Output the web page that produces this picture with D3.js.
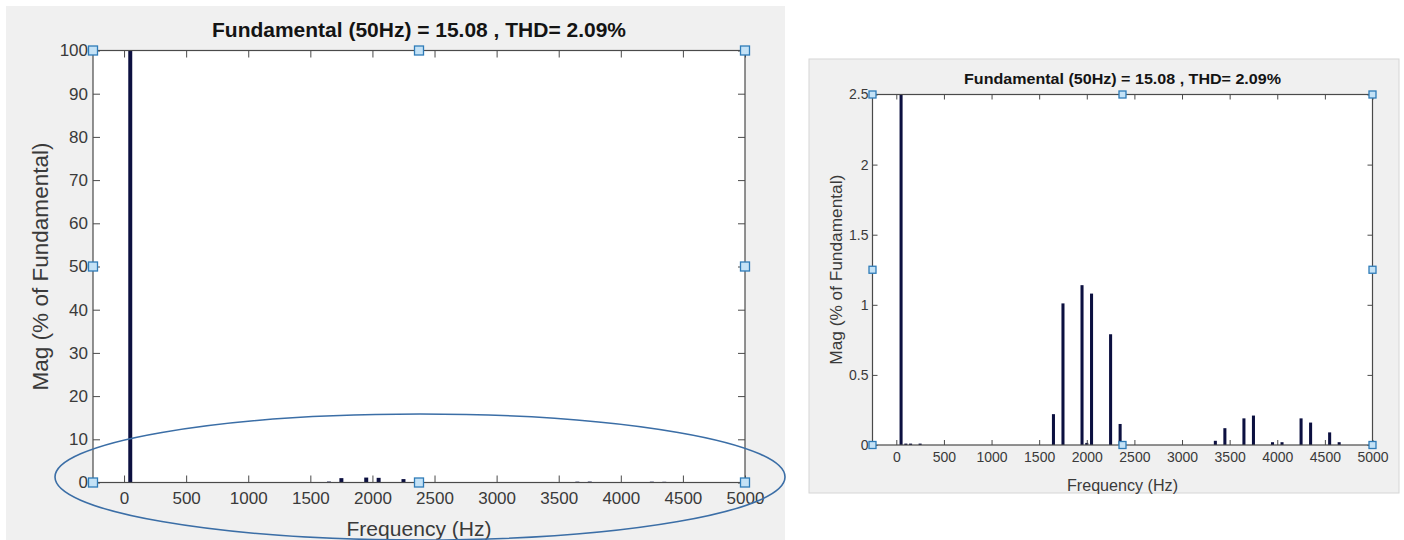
<!DOCTYPE html>
<html>
<head>
<meta charset="utf-8">
<script src="https://cdn.jsdelivr.net/npm/d3@7/dist/d3.min.js"></script>
<style>
  html, body { margin: 0; padding: 0; background: #ffffff; }
  svg { display: block; }
  text { font-family: "Liberation Sans", Arial, Helvetica, sans-serif; }
</style>
</head>
<body>
<svg id="fig" width="1404" height="540"></svg>
<script>
// Harmonic spectrum (magnitude as % of the 50 Hz fundamental)
const harmonicFreqHz = [50, 100, 150, 250, 1650, 1750, 1950, 2000, 2050, 2250, 2350,
                        3350, 3450, 3650, 3750, 3950, 4050, 4250, 4350, 4550, 4650];
const harmonicMagPct = [100, 0.01, 0.01, 0.01, 0.22, 1.01, 1.14, 0.015, 1.08, 0.79, 0.15,
                        0.03, 0.12, 0.19, 0.21, 0.02, 0.02, 0.19, 0.16, 0.09, 0.02];

const titleText = "Fundamental (50Hz) = 15.08 , THD= 2.09%";
const xLabelText = "Frequency (Hz)";
const yLabelText = "Mag (% of Fundamental)";

const xTickValues = [0, 500, 1000, 1500, 2000, 2500, 3000, 3500, 4000, 4500, 5000];
const fullYTickValues = [0, 10, 20, 30, 40, 50, 60, 70, 80, 90, 100];
const zoomYTickValues = [0, 0.5, 1, 1.5, 2, 2.5];
const xDomain = [-250, 5000];
const fullYDomain = [0, 100];
const zoomYDomain = [0, 2.5];

const svg = d3.select("#fig");

function drawSpectrum(cfg) {
  const g = svg.append("g");

  // figure background panel
  g.append("rect")
    .attr("x", cfg.panel[0]).attr("y", cfg.panel[1])
    .attr("width", cfg.panel[2]).attr("height", cfg.panel[3])
    .attr("fill", "#f0f0f0")
    .attr("stroke", cfg.panelStroke || "none");

  const [L, T, R, B] = cfg.plot;
  const x = d3.scaleLinear().domain(xDomain).range([L, R]);
  const y = d3.scaleLinear().domain(cfg.yDomain).range([B, T]);

  // white axes area
  g.append("rect")
    .attr("x", L).attr("y", T).attr("width", R - L).attr("height", B - T)
    .attr("fill", "#ffffff");

  // bars, clipped to the axes box
  const clipId = "clip-" + cfg.id;
  svg.append("clipPath").attr("id", clipId)
    .append("rect").attr("x", L).attr("y", T).attr("width", R - L).attr("height", B - T);

  const barHalf = 16; // Hz
  g.append("g").attr("clip-path", `url(#${clipId})`)
    .selectAll("rect")
    .data(harmonicFreqHz.map((f, i) => ({ f, v: harmonicMagPct[i] })))
    .join("rect")
    .attr("x", d => x(d.f - barHalf))
    .attr("width", d => x(d.f + barHalf) - x(d.f - barHalf))
    .attr("y", d => y(d.v))
    .attr("height", d => y(0) - y(d.v))
    .attr("fill", "#0c1040");

  const tickLen = cfg.tickLen;
  const axisColor = "#4a4a4a";
  const textColor = "#3a3a3a";

  function styleAxis(sel, showLabels) {
    sel.select(".domain").remove();
    sel.selectAll(".tick line").attr("stroke", axisColor).attr("stroke-width", 1);
    if (showLabels) {
      sel.selectAll(".tick text")
        .attr("fill", textColor)
        .style("font-size", cfg.tickFont + "px");
    } else {
      sel.selectAll(".tick text").remove();
    }
  }

  g.append("g").attr("transform", `translate(0,${B})`)
    .call(d3.axisBottom(x).tickValues(xTickValues).tickSizeInner(-tickLen).tickSizeOuter(0)
      .tickPadding(cfg.xTickPad).tickFormat(d3.format("d")))
    .call(s => styleAxis(s, true));
  g.append("g").attr("transform", `translate(0,${T})`)
    .call(d3.axisTop(x).tickValues(xTickValues).tickSizeInner(-tickLen).tickSizeOuter(0))
    .call(s => styleAxis(s, false));
  g.append("g").attr("transform", `translate(${L},0)`)
    .call(d3.axisLeft(y).tickValues(cfg.yTicks).tickSizeInner(-tickLen).tickSizeOuter(0)
      .tickPadding(cfg.yTickPad).tickFormat(d => String(d)))
    .call(s => styleAxis(s, true));
  g.append("g").attr("transform", `translate(${R},0)`)
    .call(d3.axisRight(y).tickValues(cfg.yTicks).tickSizeInner(-tickLen).tickSizeOuter(0))
    .call(s => styleAxis(s, false));

  // axes box
  g.append("rect")
    .attr("x", L).attr("y", T).attr("width", R - L).attr("height", B - T)
    .attr("fill", "none").attr("stroke", axisColor).attr("stroke-width", 1.2);

  // title and axis labels
  g.append("text")
    .attr("x", (L + R) / 2).attr("y", cfg.titleY)
    .attr("text-anchor", "middle").attr("dominant-baseline", "central")
    .attr("font-weight", "bold").attr("fill", "#141414")
    .style("font-size", cfg.titleFont + "px")
    .attr("textLength", cfg.titleLen).attr("lengthAdjust", "spacingAndGlyphs")
    .text(titleText);

  g.append("text")
    .attr("x", (L + R) / 2).attr("y", cfg.xLabelY)
    .attr("text-anchor", "middle").attr("dominant-baseline", "central")
    .attr("fill", textColor)
    .style("font-size", cfg.labelFont + "px")
    .attr("textLength", cfg.xLabelLen).attr("lengthAdjust", "spacingAndGlyphs")
    .text(xLabelText);

  g.append("text")
    .attr("transform", `translate(${cfg.yLabelX},${(T + B) / 2}) rotate(-90)`)
    .attr("text-anchor", "middle").attr("dominant-baseline", "central")
    .attr("fill", textColor)
    .style("font-size", cfg.yLabelFont + "px")
    .attr("textLength", cfg.yLabelLen).attr("lengthAdjust", "spacingAndGlyphs")
    .text(yLabelText);

  // selection handles on the axes box
  const mx = (L + R) / 2, my = (T + B) / 2;
  const handles = [[L, T], [mx, T], [R, T], [L, my], [R, my], [L, B], [mx, B], [R, B]];
  const hs = cfg.handleSize;
  g.append("g").selectAll("rect").data(handles).join("rect")
    .attr("x", d => d[0] - hs / 2).attr("y", d => d[1] - hs / 2)
    .attr("width", hs).attr("height", hs)
    .attr("fill", "#c4e2f6").attr("stroke", "#2f7cb8").attr("stroke-width", 1.3);

  return g;
}

// full-scale spectrum
drawSpectrum({
  id: "full",
  panel: [6, 6, 779, 540],
  plot: [93, 50.5, 745, 482.5],
  yDomain: fullYDomain, yTicks: fullYTickValues,
  tickLen: 7, tickFont: 17, xTickPad: 9, yTickPad: 5,
  titleY: 30, titleFont: 20, titleLen: 414,
  xLabelY: 528, labelFont: 21, xLabelLen: 145,
  yLabelX: 40, yLabelFont: 22, yLabelLen: 248,
  handleSize: 9
});

// highlight around the low-magnitude harmonics
svg.append("ellipse")
  .attr("cx", 420).attr("cy", 477).attr("rx", 365).attr("ry", 63)
  .attr("fill", "none").attr("stroke", "#3b6ea6").attr("stroke-width", 1.6);

// zoomed spectrum
drawSpectrum({
  id: "zoom",
  panel: [809, 59, 590, 434],
  panelStroke: "#d6d6d6",
  plot: [872.5, 94.5, 1372.5, 445],
  yDomain: zoomYDomain, yTicks: zoomYTickValues,
  tickLen: 5, tickFont: 14, xTickPad: 7, yTickPad: 4,
  titleY: 78, titleFont: 15, titleLen: 317,
  xLabelY: 485, labelFont: 16, xLabelLen: 111,
  yLabelX: 836, yLabelFont: 17, yLabelLen: 190,
  handleSize: 7
});
</script>
</body>
</html>
